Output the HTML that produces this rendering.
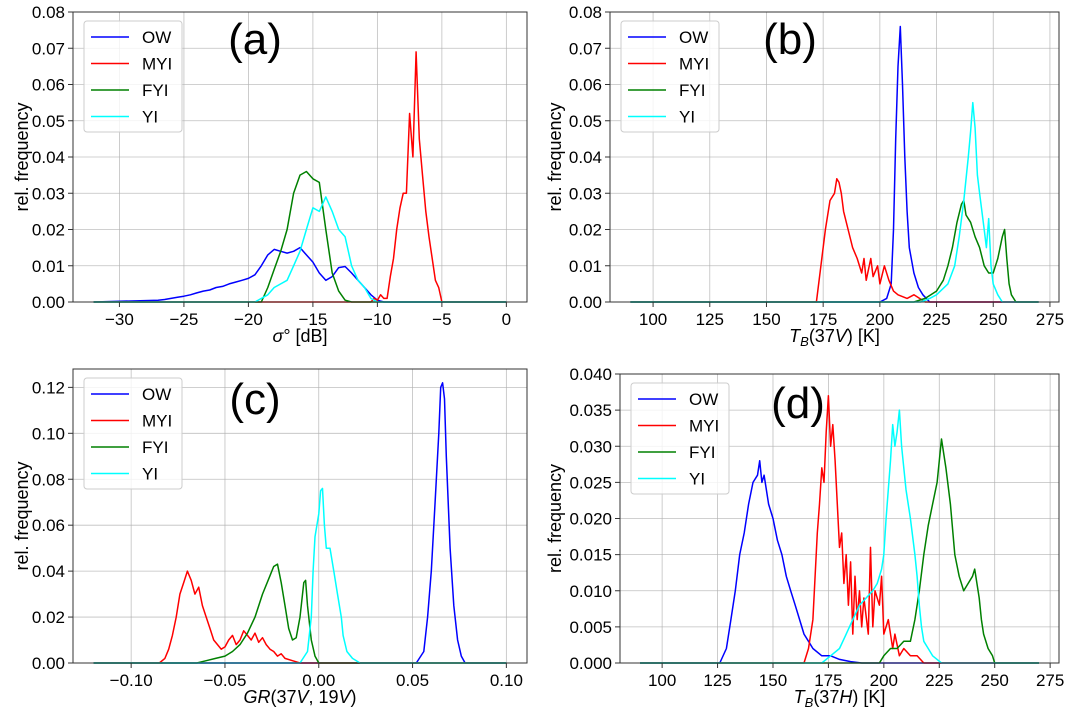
<!DOCTYPE html>
<html><head><meta charset="utf-8">
<style>
body{margin:0;background:#fff;}
svg{display:block;font-family:"Liberation Sans","DejaVu Sans",sans-serif;}
</style></head>
<body>
<svg id="fig" width="1075" height="712" viewBox="0 0 1075 712" xmlns="http://www.w3.org/2000/svg"></svg>
<script>
// ---------- data (a) sigma0 ----------
const aOWx=[-27,-26.5,-26,-25.5,-25,-24.5,-24,-23.5,-23,-22.5,-22,-21.5,-21,-20.5,-20,-19.5,-19,-18.5,-18,-17.5,-17,-16.5,-16,-15.5,-15,-14.5,-14,-13.5,-13,-12.5,-12,-11.5,-11,-10.5,-10,-9.5];
const aOWy=[.0005,.0007,.001,.0013,.0016,.002,.0025,.003,.0033,.004,.0043,.005,.0055,.006,.0065,.0075,.01,.013,.0145,.014,.0135,.014,.015,.013,.011,.008,.006,.007,.0095,.0098,.008,.006,.004,.002,.0005,0];
const aMYIx=[-10.5,-10.25,-10,-9.75,-9.5,-9.25,-9,-8.75,-8.5,-8.25,-8,-7.75,-7.5,-7.25,-7,-6.75,-6.5,-6.25,-6,-5.75,-5.5,-5.25,-5];
const aMYIy=[0,.001,.0005,.002,.001,.001,.007,.012,.02,.026,.03,.03,.052,.04,.069,.045,.035,.025,.018,.012,.006,.004,0];
const aFYIx=[-19,-18.5,-18,-17.5,-17,-16.5,-16,-15.5,-15,-14.5,-14,-13.5,-13,-12.5,-12];
const aFYIy=[0,.004,.009,.014,.02,.03,.035,.036,.034,.033,.02,.008,.003,.0005,0];
const aYIx=[-19.5,-18.5,-18,-17.5,-17,-16.5,-16,-15.5,-15,-14.5,-14,-13.5,-13,-12.5,-12,-11.5,-11,-10.5,-10];
const aYIy=[0,.002,.004,.005,.006,.01,.014,.02,.026,.025,.029,.025,.02,.018,.01,.006,.004,.001,0];
const aXTicks=[-30,-25,-20,-15,-10,-5,0];
const aYTicks=[0,.01,.02,.03,.04,.05,.06,.07,.08];
// ---------- data (b) TB37V ----------
const bOWx=[200,203,205,206,207,208,209,210,211,212,213,215,217,219,222];
const bOWy=[0,.001,.005,.02,.045,.065,.076,.06,.04,.025,.015,.008,.004,.002,0];
const bMYIx=[172,174,176,178,180,181,182,183,184,186,188,190,192,193,194,196,197,199,200,202,204,206,208,212,215,220];
const bMYIy=[0,.01,.02,.028,.03,.034,.033,.03,.025,.02,.015,.012,.008,.012,.006,.012,.007,.01,.005,.01,.006,.003,.002,.001,.002,0];
const bFYIx=[215,220,225,228,230,232,234,236,237,238,240,242,244,246,248,250,252,254,255,256,257,258,260];
const bFYIy=[0,.001,.003,.006,.01,.015,.022,.027,.028,.024,.022,.018,.015,.01,.008,.008,.012,.018,.02,.012,.005,.002,0];
const bYIx=[218,222,225,230,233,235,237,239,240,241,242,243,244,246,247,248,249,250,252,254];
const bYIy=[0,.001,.002,.005,.01,.018,.028,.04,.047,.055,.048,.035,.03,.02,.015,.023,.01,.005,.002,0];
const bXTicks=[100,125,150,175,200,225,250,275];
const bYTicks=[0,.01,.02,.03,.04,.05,.06,.07,.08];
// ---------- data (c) GR ----------
const cOWx=[.052,.056,.058,.06,.062,.064,.065,.066,.067,.068,.07,.072,.074,.076,.078];
const cOWy=[0,.005,.02,.04,.07,.1,.12,.122,.115,.09,.05,.025,.01,.003,0];
const cMYIx=[-.085,-.082,-.08,-.078,-.076,-.074,-.072,-.07,-.068,-.066,-.064,-.062,-.06,-.058,-.056,-.054,-.052,-.05,-.048,-.046,-.044,-.042,-.04,-.038,-.036,-.034,-.032,-.03,-.028,-.026,-.024,-.022,-.02,-.018,-.014,-.01];
const cMYIy=[0,.002,.006,.012,.02,.03,.035,.04,.036,.03,.033,.025,.02,.015,.01,.008,.006,.007,.01,.012,.008,.01,.014,.012,.01,.013,.009,.011,.008,.006,.005,.003,.004,.002,.001,0];
const cFYIx=[-.065,-.06,-.055,-.05,-.046,-.042,-.038,-.034,-.03,-.026,-.024,-.022,-.02,-.018,-.016,-.014,-.012,-.01,-.008,-.007,-.006,-.004,-.002,0];
const cFYIy=[0,.001,.002,.003,.005,.008,.013,.02,.03,.038,.042,.043,.035,.025,.015,.01,.011,.02,.035,.036,.025,.01,.003,0];
const cYIx=[-.01,-.006,-.004,-.003,-.002,-.001,0,.001,.002,.003,.004,.006,.008,.01,.012,.013,.015,.018,.022];
const cYIy=[0,.005,.02,.04,.055,.06,.065,.075,.076,.06,.05,.05,.04,.03,.02,.012,.005,.002,0];
const cXTicks=[-.1,-.05,0,.05,.1];
const cYTicks=[0,.02,.04,.06,.08,.1,.12];
// ---------- data (d) TB37H ----------
const dOWx=[126,129,131,133,135,137,139,141,143,144,145,146,148,150,152,154,156,158,160,162,164,166,168,172,176,180,185,190];
const dOWy=[0,.002,.006,.01,.015,.018,.022,.025,.026,.028,.025,.026,.022,.02,.017,.015,.012,.01,.008,.006,.004,.003,.002,.001,.001,.0005,.0002,0];
const dMYIx=[164,166,168,170,171,172,173,174,175,176,177,178,179,180,181,182,183,184,185,186,187,188,189,190,191,193,194,195,196,198,199,200,202,204,205,207,209,212,215,218];
const dMYIy=[0,.002,.006,.018,.022,.027,.025,.032,.037,.03,.033,.028,.022,.016,.018,.011,.015,.008,.014,.004,.012,.006,.01,.005,.009,.004,.016,.005,.01,.008,.012,.004,.006,.002,.004,.001,.002,.001,.001,0];
const dFYIx=[198,200,203,206,209,212,214,216,218,220,222,224,225,226,227,228,230,232,234,236,238,240,241,243,244,245,247,249,250];
const dFYIy=[0,.001,.002,.002,.003,.003,.006,.01,.015,.019,.022,.025,.028,.031,.029,.027,.022,.015,.012,.01,.011,.012,.013,.009,.006,.004,.002,.001,0];
const dYIx=[172,176,180,183,186,189,192,195,197,199,200,201,203,204,205,206,207,208,210,212,214,215,216,217,218,220,222,226];
const dYIy=[0,.001,.002,.004,.006,.008,.009,.01,.011,.013,.015,.02,.028,.033,.03,.032,.035,.03,.024,.02,.015,.012,.008,.005,.003,.002,.001,0];
const dXTicks=[100,125,150,175,200,225,250,275];
const dYTicks=[0,.005,.01,.015,.02,.025,.03,.035,.04];
const legendNames=["OW","MYI","FYI","YI"];
const colors=["#0000ff","#ff0000","#008000","#00ffff"];

const NS="http://www.w3.org/2000/svg";
const fig=document.getElementById('fig');
function mk(tag,attrs,parent){const e=document.createElementNS(NS,tag);for(const k in attrs)e.setAttribute(k,attrs[k]);(parent||fig).appendChild(e);return e;}

function panel(o){
  const g=mk('g',{});
  
  
  const X=v=>o.L+(v-o.x0)/(o.x1-o.x0)*(o.R-o.L);
  const Y=v=>o.B-(v-o.y0)/(o.y1-o.y0)*(o.B-o.T);
  o.xt.forEach(t=>{const l=mk('line',{x1:X(t),x2:X(t),y1:o.T,y2:o.B,stroke:'#b0b0b0','stroke-width':0.8,opacity:0.8},g);
    });
  o.yt.forEach(t=>{const l=mk('line',{x1:o.L,x2:o.R,y1:Y(t),y2:Y(t),stroke:'#b0b0b0','stroke-width':0.8,opacity:0.8},g);
    });
  o.series.forEach((s,i)=>{
    const xs=[o.dmin].concat(s[0]).concat([o.dmax]);
    const ys=[0].concat(s[1]).concat([0]);
    const pts=xs.map((x,j)=>X(x).toFixed(1)+','+Y(ys[j]).toFixed(1)).join(' ');
    const p=mk('polyline',{points:pts,fill:'none',stroke:colors[i],'stroke-width':1.5,'stroke-linejoin':'round'},g);
    
    
  });
  const fr=mk('rect',{x:o.L,y:o.T,width:o.R-o.L,height:o.B-o.T,fill:'none',stroke:'#333','stroke-width':1},g);
  
  o.xt.forEach(t=>{mk('line',{x1:X(t),x2:X(t),y1:o.B,y2:o.B+5,stroke:'#333'},g);
    const tx=mk('text',{x:X(t),y:o.B+23,'font-size':17,'text-anchor':'middle',fill:'#000'},g);
    tx.textContent=o.xf(t).replace('-','\u2212');
    });
  o.yt.forEach(t=>{mk('line',{x1:o.L-5,x2:o.L,y1:Y(t),y2:Y(t),stroke:'#333'},g);
    const tx=mk('text',{x:o.L-8,y:Y(t)+6,'font-size':17,'text-anchor':'end',fill:'#000'},g);
    tx.textContent=t.toFixed(o.yd);
    });
  const yl=mk('text',{x:0,y:0,'font-size':18,'text-anchor':'middle',transform:`translate(${o.ytx},${(o.T+o.B)/2}) rotate(-90)`},g);
  yl.textContent='rel. frequency';
  const xl=mk('text',{x:(o.L+o.R)/2,y:o.B+40,'font-size':18,'text-anchor':'middle'},g);
  xl.innerHTML=o.xlab;
  const pl=mk('text',{x:o.lx,y:o.ly,'font-size':44,'text-anchor':'middle'},g);
  pl.textContent='('+o.id+')';
  const lg=mk('g',{},g);
  
  const lx=o.L+11, ly=o.T+9;
  mk('rect',{x:lx,y:ly,width:98,height:111,rx:3,fill:'#fff','fill-opacity':0.8,stroke:'#ccc'},lg);
  legendNames.forEach((n,i)=>{
    const e=mk('g',{},lg);
    
    const yy=ly+16+i*26.5;
    mk('line',{x1:lx+7,x2:lx+45,y1:yy,y2:yy,stroke:colors[i],'stroke-width':1.5},e);
    const t=mk('text',{x:lx+58,y:yy+6,'font-size':17},e);t.textContent=n;
  });
}
const fmt0=t=>String(t), fmt2=t=>t.toFixed(2);
panel({id:'a',L:73,R:527,T:12,B:302,x0:-33.6,x1:1.6,y0:0,y1:0.08,dmin:-32,dmax:0,xt:aXTicks,yt:aYTicks,yd:2,xf:fmt0,ytx:28,
  series:[[aOWx,aOWy],[aMYIx,aMYIy],[aFYIx,aFYIy],[aYIx,aYIy]],xlab:'<tspan font-style="italic">σ</tspan>° [dB]',lx:255,ly:54});
panel({id:'b',L:610,R:1059,T:12,B:302,x0:81,x1:279,y0:0,y1:0.08,dmin:90,dmax:270,xt:bXTicks,yt:bYTicks,yd:2,xf:fmt0,ytx:561,
  series:[[bOWx,bOWy],[bMYIx,bMYIy],[bFYIx,bFYIy],[bYIx,bYIy]],xlab:'<tspan font-style="italic">T</tspan><tspan font-style="italic" font-size="13" dy="4">B</tspan><tspan dy="-4">(37</tspan><tspan font-style="italic">V</tspan>) [K]',lx:790,ly:54});
panel({id:'c',L:73,R:527,T:369,B:663,x0:-0.131,x1:0.111,y0:0,y1:0.128,dmin:-0.12,dmax:0.1,xt:cXTicks,yt:cYTicks,yd:2,xf:fmt2,ytx:28,
  series:[[cOWx,cOWy],[cMYIx,cMYIy],[cFYIx,cFYIy],[cYIx,cYIy]],xlab:'<tspan font-style="italic">GR</tspan>(37<tspan font-style="italic">V</tspan>, 19<tspan font-style="italic">V</tspan>)',lx:255,ly:414});
panel({id:'d',L:620,R:1059,T:374,B:663,x0:81,x1:279,y0:0,y1:0.04,dmin:90,dmax:270,xt:dXTicks,yt:dYTicks,yd:3,xf:fmt0,ytx:561,
  series:[[dOWx,dOWy],[dMYIx,dMYIy],[dFYIx,dFYIy],[dYIx,dYIy]],xlab:'<tspan font-style="italic">T</tspan><tspan font-style="italic" font-size="13" dy="4">B</tspan><tspan dy="-4">(37</tspan><tspan font-style="italic">H</tspan>) [K]',lx:798,ly:418});
</script>
</body></html>
